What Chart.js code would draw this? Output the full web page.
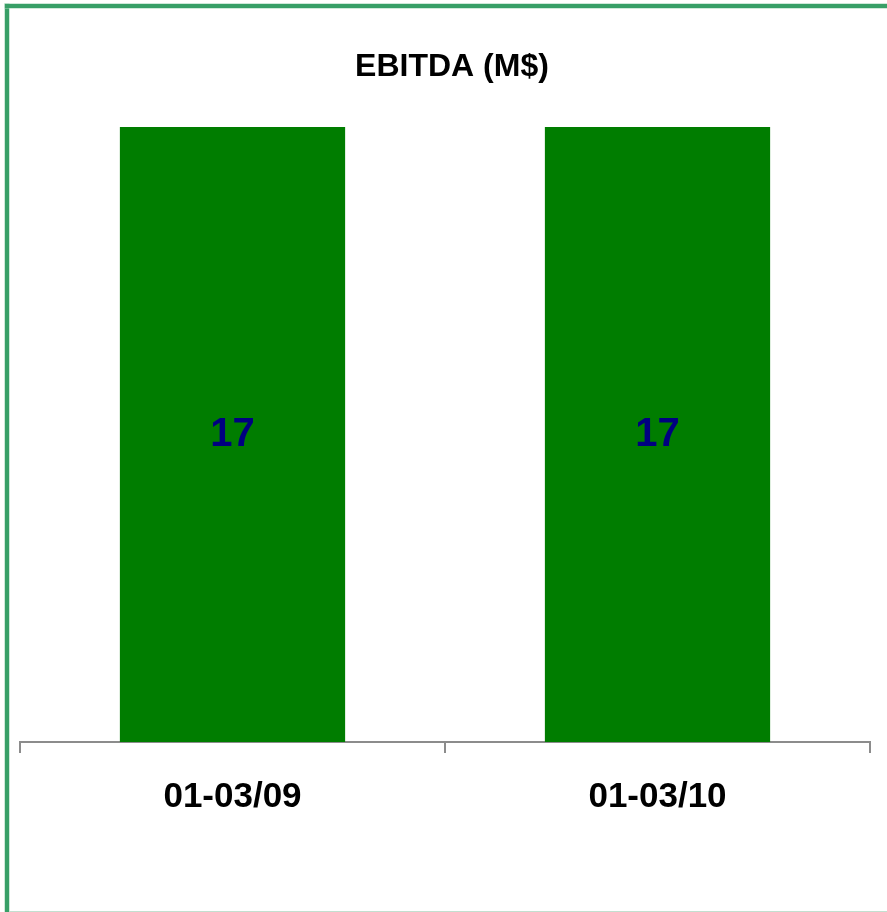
<!DOCTYPE html>
<html>
<head>
<meta charset="utf-8">
<script src="https://cdn.jsdelivr.net/npm/chart.js@4/dist/chart.umd.min.js"></script>
<style>
  body { margin: 0; background: #fff; }
  #wrap { position: relative; width: 887px; height: 912px; overflow: hidden; }
  .edge { position: absolute; background: #389f67; }
  #edgeLeft { left: 5px; top: 4px; width: 4px; height: 908px; box-shadow: 0 0 0 0.5px #9fd3b5; }
  #edgeTop { left: 5px; top: 4px; width: 882px; height: 4px; box-shadow: 0 0 0 0.5px #9fd3b5; }
  #edgeBottom { position: absolute; left: 9px; top: 911px; width: 878px; height: 1px; background: #c3dfcf; }
  canvas { position: absolute; left: 0; top: 0; }
</style>
</head>
<body>
<div id="wrap">
  <div class="edge" id="edgeLeft"></div>
  <div class="edge" id="edgeTop"></div>
  <div id="edgeBottom"></div>
  <canvas id="ebitda_chart" width="887" height="912"></canvas>
</div>
<script>
const periods = ["01-03/09", "01-03/10"];
const ebitda = [17, 17];
const chartTitle = "EBITDA (M$)";

// ===========================================================================

// draws the value in the middle of each bar
const barValueLabels = {
  id: 'barValueLabels',
  afterDatasetsDraw(chart) {
    const ctx = chart.ctx;
    ctx.save();
    ctx.font = 'bold 40px "Liberation Sans", Arial, sans-serif';
    ctx.fillStyle = '#000080';
    ctx.textAlign = 'center';
    ctx.textBaseline = 'middle';
    chart.getDatasetMeta(0).data.forEach((bar, i) => {
      ctx.fillText(chart.data.datasets[0].data[i], bar.x, (bar.y + bar.base) / 2);
    });
    ctx.restore();
  }
};

// title sits a little right of the plot centre in the original
const offsetTitle = {
  id: 'offsetTitle',
  afterDraw(chart) {
    const ctx = chart.ctx;
    const area = chart.chartArea;
    ctx.save();
    ctx.font = 'bold 32px "Liberation Sans", Arial, sans-serif';
    ctx.fillStyle = '#000';
    ctx.textAlign = 'center';
    ctx.textBaseline = 'middle';
    ctx.fillText(chartTitle, (area.left + area.right) / 2 + 7, area.top - 60);
    ctx.restore();
  }
};

new Chart(document.getElementById('ebitda_chart'), {
  type: 'bar',
  data: {
    labels: periods,
    datasets: [{
      data: ebitda,
      backgroundColor: '#007d00',
      borderWidth: 0,
      categoryPercentage: 1,
      barPercentage: 0.53
    }]
  },
  options: {
    responsive: false,
    animation: false,
    layout: { padding: { left: 20, right: 17, top: 127, bottom: 71 } },
    plugins: {
      legend: { display: false },
      tooltip: { enabled: false },
      title: { display: false }
    },
    scales: {
      x: {
        offset: true,
        grid: {
          offset: true,
          drawOnChartArea: false,
          drawTicks: true,
          tickLength: 11,
          color: '#8c8c8c',
          lineWidth: 2
        },
        border: { display: true, color: '#8c8c8c', width: 2 },
        ticks: {
          color: '#000',
          padding: 23,
          font: { family: '"Liberation Sans", Arial, sans-serif', size: 35, weight: 'bold', lineHeight: 1.2 }
        }
      },
      y: {
        display: false,
        min: 0,
        max: 17
      }
    }
  },
  plugins: [barValueLabels, offsetTitle]
});
</script>
</body>
</html>
